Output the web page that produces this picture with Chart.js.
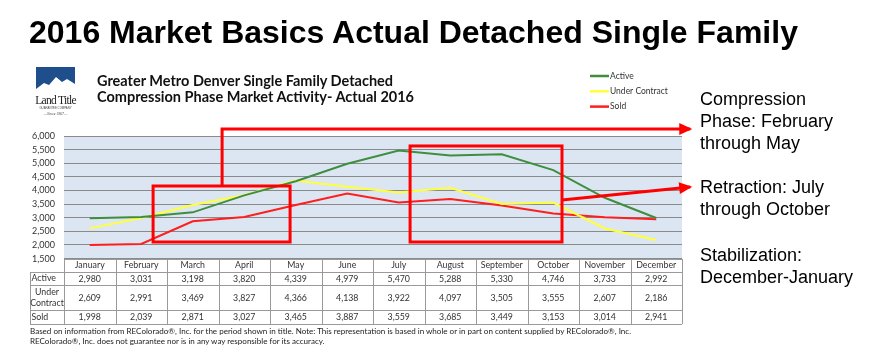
<!DOCTYPE html>
<html><head><meta charset="utf-8">
<script src="https://cdn.jsdelivr.net/npm/chart.js@4/dist/chart.umd.min.js"></script>
<style>
body{margin:0;background:#fff;}
#wrap{position:relative;width:886px;height:355px;overflow:hidden;background:#fff;}
canvas{position:absolute;left:0;top:0;}
.t{position:absolute;white-space:nowrap;color:#000;}
.note{font:18px/22px 'Liberation Sans',Arial,sans-serif;left:700px;}
</style></head><body>
<div id="wrap">
<canvas id="c" width="886" height="355"></canvas>
<div class="t" style="left:29px;top:16px;font:bold 32px/32px 'Liberation Sans',Arial,sans-serif;">2016 Market Basics Actual Detached Single Family</div>
<div class="t" style="left:97px;top:73px;font:bold 14.5px/15.5px Lato,sans-serif;color:#111;">Greater Metro Denver Single Family Detached<br>Compression Phase Market Activity- Actual 2016</div>
<div class="t note" style="top:88px;">Compression<br>Phase: February<br>through May</div>
<div class="t note" style="top:176px;">Retraction: July<br>through October</div>
<div class="t note" style="top:244px;">Stabilization:<br>December-January</div>
<div class="t" style="left:30px;top:326px;font:8.05px/10px Lato,sans-serif;color:#222;">Based on information from REColorado®, Inc. for the period shown in title. Note: This representation is based in whole or in part on content supplied by REColorado®, Inc.<br>REColorado®, Inc. does not guarantee nor is in any way responsible for its accuracy.</div>
<svg style="position:absolute;left:34px;top:66px;" width="44" height="54" viewBox="0 0 44 54">
  <rect x="2" y="1" width="39" height="28" fill="#1f4e8c"/>
  <polygon points="2,23 10,17 15,19 22,11 28,16 33,13 41,18 41,29 2,29" fill="#fff"/>
  <text x="21.5" y="38" text-anchor="middle" font-family="'Liberation Serif',serif" font-size="11.5" fill="#222" letter-spacing="-0.7">Land Title</text>
  <text x="21.5" y="43" text-anchor="middle" font-family="'Liberation Sans',sans-serif" font-size="2.8" fill="#444">GUARANTEE COMPANY</text>
  <text x="21.5" y="49" text-anchor="middle" font-family="'Liberation Serif',serif" font-size="3.8" font-style="italic" fill="#444">—Since 1967—</text>
</svg>
</div>
<script>
const months = ["January","February","March","April","May","June","July","August","September","October","November","December"];
const seriesNames = ["Active","Under Contract","Sold"];
const active = [2980,3031,3198,3820,4339,4979,5470,5288,5330,4746,3733,2992];
const underContract = [2609,2991,3469,3827,4366,4138,3922,4097,3505,3555,2607,2186];
const sold = [1998,2039,2871,3027,3465,3887,3559,3685,3449,3153,3014,2941];
const yMin = 1500, yMax = 6000, yStep = 500;

// Phase annotations in data coordinates (category index, value)
const phaseBoxes = [
  {x0:1.23, x1:3.89, y0:2110, y1:4165},
  {x0:6.22, x1:9.17, y0:2110, y1:5634}
];
const phaseArrows = [
  {pts:[[2.57,4165],[2.57,6258],[11.66,6258]]},
  {pts:[[9.17,3651],[11.66,4128]]}
];

const fmt = v => v.toLocaleString('en-US');

const overlay = {
  id:'overlay',
  beforeDraw(chart){
    const {ctx, chartArea:a} = chart;
    ctx.save();
    ctx.fillStyle = '#DCE6F2';
    ctx.fillRect(a.left, a.top, a.right-a.left, a.bottom-a.top);
    ctx.restore();
  },
  afterDatasetsDraw(chart){
    const {ctx, scales:{x,y}} = chart;
    ctx.save();
    ctx.strokeStyle = '#FF0000';
    ctx.fillStyle = '#FF0000';
    ctx.lineWidth = 3;
    ctx.lineJoin = 'miter';
    phaseBoxes.forEach(b=>{
      const l = x.getPixelForValue(b.x0), r = x.getPixelForValue(b.x1);
      const t = y.getPixelForValue(b.y1), bt = y.getPixelForValue(b.y0);
      ctx.strokeRect(l, t, r-l, bt-t);
    });
    phaseArrows.forEach(ar=>{
      const p = ar.pts.map(([u,v])=>[x.getPixelForValue(u), y.getPixelForValue(v)]);
      ctx.beginPath();
      ctx.moveTo(p[0][0], p[0][1]);
      for(let i=1;i<p.length;i++) ctx.lineTo(p[i][0], p[i][1]);
      ctx.stroke();
      const [x1,y1] = p[p.length-2], [x2,y2] = p[p.length-1];
      const ang = Math.atan2(y2-y1, x2-x1);
      const L = 11, W = 6;
      ctx.beginPath();
      ctx.moveTo(x2+2*Math.cos(ang), y2+2*Math.sin(ang));
      ctx.lineTo(x2 - L*Math.cos(ang) + W*Math.sin(ang), y2 - L*Math.sin(ang) - W*Math.cos(ang));
      ctx.lineTo(x2 - L*Math.cos(ang) - W*Math.sin(ang), y2 - L*Math.sin(ang) + W*Math.cos(ang));
      ctx.closePath();
      ctx.fill();
    });
    ctx.restore();
  },
  afterDraw(chart){
    const {ctx, chartArea:a, scales:{x}} = chart;
    ctx.save();
    const colW = (a.right - a.left) / months.length;
    const labL = 30;
    const rows = [a.bottom, a.bottom+13.5, a.bottom+26.5, a.bottom+51.5, a.bottom+65.5];
    ctx.strokeStyle = '#9a9a9a';
    ctx.lineWidth = 1;
    rows.forEach((ry,i)=>{
      ctx.beginPath();
      ctx.moveTo(i===0? a.left : labL, Math.round(ry)+0.5);
      ctx.lineTo(a.right, Math.round(ry)+0.5);
      ctx.stroke();
    });
    const vx = [labL, a.left];
    months.forEach((m,i)=> vx.push(x.getPixelForValue(i)+colW/2));
    vx.forEach((xx,i)=>{
      ctx.beginPath();
      ctx.moveTo(Math.round(xx)+0.5, Math.round(i===0? rows[1]: rows[0]));
      ctx.lineTo(Math.round(xx)+0.5, Math.round(rows[4]));
      ctx.stroke();
    });
    ctx.fillStyle = '#333';
    ctx.font = '8.8px Lato, sans-serif';
    ctx.textBaseline = 'middle';
    ctx.textAlign = 'center';
    const series = chart.data.datasets.map(d=>d.data);
    months.forEach((m,i)=>{
      const cx = x.getPixelForValue(i);
      ctx.fillText(m, cx, (rows[0]+rows[1])/2);
      series.forEach((s,j)=>{
        ctx.fillText(fmt(s[i]), cx, (rows[j+1]+rows[j+2])/2+0.5);
      });
    });
    ctx.textAlign = 'left';
    ctx.fillText(seriesNames[0], labL+1.5, (rows[1]+rows[2])/2);
    ctx.fillText(seriesNames[2], labL+1.5, (rows[3]+rows[4])/2);
    ctx.textAlign = 'center';
    const parts = seriesNames[1].split(' ');
    const cxl = (labL + a.left)/2;
    ctx.fillText(parts[0], cxl, (rows[2]+rows[3])/2-5.5);
    ctx.fillText(parts[1], cxl, (rows[2]+rows[3])/2+6);
    ctx.textAlign = 'left';
    ctx.font = '8.5px Lato, sans-serif';
    chart.data.datasets.forEach((d,i)=>{
      const ly = 76 + i*15.3;
      ctx.strokeStyle = d.borderColor;
      ctx.lineWidth = 2.5;
      ctx.beginPath();
      ctx.moveTo(590, ly); ctx.lineTo(609, ly);
      ctx.stroke();
      ctx.fillStyle = '#333';
      ctx.fillText(d.label, 610, ly);
    });
    ctx.restore();
  }
};

new Chart(document.getElementById('c'), {
  type:'line',
  data:{
    labels: months,
    datasets:[
      {label:seriesNames[0], data:active, borderColor:'#3F8E3F', borderWidth:2},
      {label:seriesNames[1], data:underContract, borderColor:'#FFFF3A', borderWidth:2},
      {label:seriesNames[2], data:sold, borderColor:'#FF1E1E', borderWidth:2}
    ]
  },
  options:{
    responsive:false,
    animation:false,
    devicePixelRatio:1,
    clip:false,
    elements:{point:{radius:0}, line:{tension:0}},
    layout:{padding:{left:0, right:204, top:136, bottom:96.4}},
    plugins:{legend:{display:false}, title:{display:false}, tooltip:{enabled:false}},
    scales:{
      x:{type:'category', offset:true, display:false},
      y:{
        min:yMin, max:yMax,
        afterFit(s){ s.width = 64; },
        border:{display:false},
        grid:{color:'#8a8a8a', lineWidth:1, drawTicks:false},
        ticks:{stepSize:yStep, autoSkip:false, padding:9, color:'#333', font:{family:'Lato', size:9}, callback:v=>fmt(v)}
      }
    }
  },
  plugins:[overlay]
});
</script>
</body></html>
